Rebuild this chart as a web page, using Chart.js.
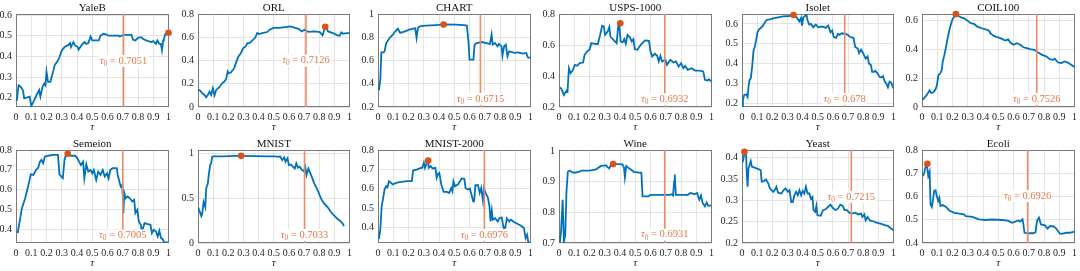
<!DOCTYPE html>
<html>
<head>
<meta charset="utf-8">
<script src="https://cdn.jsdelivr.net/npm/chart.js@4.4.1/dist/chart.umd.min.js"></script>
<style>
  html, body { margin: 0; padding: 0; background: #fff; overflow: hidden; }
  #wrap { position: relative; width: 1080px; height: 271px; }
  #wrap canvas { position: absolute; }
</style>
</head>
<body>
<div id="wrap"></div>
<script>
// ---- data ----
const titles = ["YaleB", "ORL", "CHART", "USPS-1000", "Isolet", "COIL100",
                "Semeion", "MNIST", "MNIST-2000", "Wine", "Yeast", "Ecoli"];
const tau0 = [0.7051, 0.7126, 0.6715, 0.6932, 0.678, 0.7526,
              0.7005, 0.7033, 0.6976, 0.6931, 0.7215, 0.6926];
const peakX = [1.0, 0.84, 0.43, 0.402, 0.34, 0.222, 0.339, 0.285, 0.329, 0.355, 0.016, 0.035];
const peakY = [0.514, 0.69, 0.91, 0.74, 0.645, 0.645, 0.781, 0.972, 0.745, 0.957, 0.414, 0.741];
const yMin = [0.155, 0, 0.2, 0.2, 0.182, 0, 0.33, 0, 0.32, 0.7, 0.2, 0.4];
const yMax = [0.605, 0.8, 1, 0.8, 0.65, 0.646, 0.8, 1.037, 0.8, 1.003, 0.418, 0.8];
const xTicks = [0, 0.1, 0.2, 0.3, 0.4, 0.5, 0.6, 0.7, 0.8, 0.9, 1];
const yTicks = [
  [0.2, 0.3, 0.4, 0.5, 0.6],
  [0, 0.2, 0.4, 0.6, 0.8],
  [0.2, 0.4, 0.6, 0.8, 1],
  [0.2, 0.4, 0.6, 0.8],
  [0.2, 0.3, 0.4, 0.5, 0.6],
  [0, 0.2, 0.4, 0.6],
  [0.4, 0.5, 0.6, 0.7, 0.8],
  [0, 0.5, 1],
  [0.4, 0.5, 0.6, 0.7, 0.8],
  [0.7, 0.8, 0.9, 1],
  [0.2, 0.25, 0.3, 0.35, 0.4],
  [0.4, 0.5, 0.6, 0.7, 0.8]
];
// where the tau0 label sits on each panel (data units)
const labelY = [0.378, 0.4, 0.269, 0.25, 0.222, 0.056, 0.368, 0.09, 0.362, 0.727, 0.308, 0.602];

const yaleb = [[0,0.189],[0.006,0.19],[0.017,0.26],[0.03,0.253],[0.045,0.237],[0.054,0.197],[0.09,0.205],[0.1,0.16],[0.114,0.18],[0.135,0.213],[0.152,0.237],[0.16,0.205],[0.174,0.253],[0.185,0.269],[0.193,0.26],[0.2,0.325],[0.21,0.277],[0.225,0.277],[0.243,0.325],[0.253,0.357],[0.275,0.38],[0.285,0.397],[0.3,0.429],[0.318,0.445],[0.339,0.453],[0.354,0.464],[0.36,0.445],[0.376,0.469],[0.388,0.453],[0.405,0.445],[0.41,0.432],[0.436,0.46],[0.45,0.469],[0.46,0.46],[0.474,0.464],[0.489,0.496],[0.5,0.477],[0.543,0.477],[0.554,0.5],[0.575,0.509],[0.59,0.506],[0.607,0.5],[0.65,0.5],[0.672,0.5],[0.68,0.496],[0.704,0.504],[0.757,0.504],[0.768,0.48],[0.783,0.477],[0.8,0.49],[0.822,0.493],[0.832,0.485],[0.854,0.477],[0.886,0.469],[0.9,0.474],[0.918,0.46],[0.927,0.477],[0.94,0.46],[0.95,0.46],[0.957,0.43],[0.965,0.477],[0.97,0.485],[0.98,0.509],[1,0.513]];
const orl = [[0,0.153],[0.015,0.141],[0.028,0.118],[0.043,0.104],[0.054,0.083],[0.065,0.104],[0.076,0.132],[0.087,0.104],[0.098,0.161],[0.109,0.1],[0.12,0.147],[0.141,0.17],[0.159,0.204],[0.174,0.219],[0.185,0.239],[0.196,0.305],[0.202,0.29],[0.217,0.296],[0.239,0.334],[0.25,0.377],[0.267,0.434],[0.283,0.463],[0.298,0.506],[0.315,0.521],[0.326,0.55],[0.341,0.55],[0.359,0.573],[0.376,0.593],[0.391,0.636],[0.402,0.627],[0.424,0.636],[0.457,0.645],[0.472,0.665],[0.5,0.68],[0.533,0.68],[0.576,0.688],[0.609,0.694],[0.641,0.68],[0.663,0.673],[0.685,0.65],[0.702,0.665],[0.728,0.647],[0.772,0.65],[0.804,0.645],[0.822,0.616],[0.833,0.665],[0.843,0.69],[0.859,0.65],[0.891,0.636],[0.92,0.616],[0.935,0.613],[0.946,0.642],[0.957,0.63],[0.978,0.636],[1,0.636]];
const chartDs = [[0.006,0.343],[0.015,0.435],[0.022,0.67],[0.037,0.67],[0.043,0.68],[0.054,0.75],[0.076,0.794],[0.097,0.822],[0.114,0.851],[0.13,0.874],[0.145,0.837],[0.173,0.848],[0.205,0.865],[0.231,0.874],[0.244,0.877],[0.253,0.794],[0.262,0.882],[0.274,0.894],[0.313,0.9],[0.378,0.905],[0.432,0.91],[0.508,0.908],[0.562,0.905],[0.583,0.9],[0.594,0.75],[0.6,0.607],[0.626,0.607],[0.633,0.736],[0.648,0.75],[0.68,0.759],[0.713,0.75],[0.734,0.742],[0.745,0.822],[0.752,0.736],[0.767,0.75],[0.784,0.722],[0.793,0.742],[0.81,0.722],[0.816,0.642],[0.827,0.722],[0.838,0.736],[0.849,0.636],[0.86,0.679],[0.896,0.665],[0.918,0.67],[0.95,0.659],[0.972,0.665],[0.983,0.627],[1,0.622]];
const usps = [[0.006,0.327],[0.017,0.315],[0.032,0.278],[0.05,0.306],[0.056,0.3],[0.065,0.45],[0.076,0.418],[0.089,0.435],[0.104,0.472],[0.119,0.466],[0.136,0.483],[0.158,0.487],[0.168,0.537],[0.184,0.558],[0.2,0.569],[0.212,0.612],[0.233,0.608],[0.255,0.606],[0.27,0.666],[0.283,0.724],[0.294,0.72],[0.302,0.666],[0.32,0.688],[0.33,0.716],[0.337,0.655],[0.356,0.634],[0.378,0.612],[0.389,0.731],[0.395,0.737],[0.404,0.623],[0.417,0.617],[0.428,0.638],[0.438,0.608],[0.449,0.666],[0.464,0.651],[0.477,0.623],[0.488,0.638],[0.497,0.573],[0.514,0.569],[0.536,0.601],[0.564,0.63],[0.59,0.627],[0.6,0.558],[0.611,0.526],[0.628,0.543],[0.644,0.53],[0.654,0.494],[0.665,0.53],[0.676,0.494],[0.698,0.504],[0.708,0.472],[0.73,0.504],[0.752,0.487],[0.767,0.494],[0.784,0.461],[0.801,0.483],[0.816,0.45],[0.827,0.466],[0.844,0.44],[0.87,0.45],[0.892,0.435],[0.924,0.435],[0.946,0.429],[0.957,0.375],[0.974,0.371],[0.983,0.379],[1,0.364]];
const isolet = [[0,0.185],[0.006,0.218],[0.015,0.243],[0.028,0.246],[0.037,0.232],[0.043,0.285],[0.05,0.318],[0.058,0.326],[0.067,0.384],[0.076,0.467],[0.084,0.484],[0.093,0.517],[0.102,0.558],[0.115,0.575],[0.13,0.583],[0.145,0.6],[0.162,0.62],[0.184,0.623],[0.206,0.628],[0.238,0.633],[0.271,0.638],[0.314,0.64],[0.34,0.645],[0.361,0.633],[0.379,0.613],[0.39,0.63],[0.396,0.592],[0.405,0.633],[0.418,0.641],[0.426,0.646],[0.433,0.617],[0.444,0.597],[0.455,0.6],[0.47,0.583],[0.487,0.597],[0.504,0.583],[0.53,0.587],[0.552,0.58],[0.569,0.592],[0.584,0.558],[0.595,0.567],[0.606,0.534],[0.621,0.53],[0.634,0.55],[0.643,0.545],[0.66,0.553],[0.682,0.55],[0.699,0.545],[0.714,0.534],[0.736,0.53],[0.747,0.484],[0.764,0.476],[0.773,0.454],[0.786,0.471],[0.801,0.451],[0.816,0.426],[0.829,0.437],[0.838,0.401],[0.851,0.393],[0.859,0.359],[0.872,0.359],[0.881,0.364],[0.894,0.351],[0.907,0.334],[0.92,0.331],[0.931,0.338],[0.942,0.31],[0.952,0.301],[0.963,0.281],[0.974,0.31],[0.985,0.305],[1,0.276]];
const coil = [[0.006,0.051],[0.017,0.067],[0.028,0.079],[0.039,0.097],[0.05,0.116],[0.06,0.097],[0.076,0.102],[0.089,0.125],[0.097,0.148],[0.108,0.224],[0.119,0.231],[0.13,0.259],[0.136,0.316],[0.147,0.362],[0.158,0.42],[0.168,0.478],[0.179,0.531],[0.19,0.577],[0.2,0.609],[0.212,0.628],[0.222,0.645],[0.24,0.632],[0.255,0.623],[0.276,0.616],[0.298,0.6],[0.32,0.582],[0.341,0.577],[0.363,0.558],[0.391,0.547],[0.417,0.54],[0.438,0.531],[0.449,0.512],[0.471,0.494],[0.492,0.485],[0.514,0.478],[0.536,0.466],[0.551,0.462],[0.564,0.471],[0.579,0.448],[0.6,0.432],[0.622,0.443],[0.644,0.432],[0.665,0.415],[0.687,0.409],[0.708,0.402],[0.737,0.397],[0.762,0.379],[0.788,0.362],[0.816,0.351],[0.838,0.332],[0.86,0.328],[0.87,0.335],[0.892,0.309],[0.914,0.305],[0.935,0.316],[0.957,0.309],[0.978,0.293],[1,0.277]];
const semeion = [[0.011,0.38],[0.024,0.439],[0.039,0.506],[0.06,0.556],[0.082,0.624],[0.097,0.677],[0.114,0.674],[0.131,0.699],[0.146,0.711],[0.157,0.741],[0.167,0.75],[0.178,0.733],[0.189,0.766],[0.21,0.771],[0.242,0.775],[0.275,0.775],[0.285,0.677],[0.296,0.666],[0.307,0.657],[0.318,0.75],[0.328,0.778],[0.339,0.78],[0.36,0.771],[0.388,0.771],[0.403,0.758],[0.425,0.724],[0.44,0.741],[0.448,0.657],[0.461,0.728],[0.474,0.691],[0.489,0.699],[0.5,0.682],[0.51,0.699],[0.526,0.649],[0.539,0.691],[0.554,0.674],[0.569,0.699],[0.582,0.666],[0.597,0.682],[0.607,0.657],[0.618,0.699],[0.633,0.708],[0.661,0.708],[0.667,0.674],[0.678,0.64],[0.687,0.615],[0.697,0.624],[0.704,0.481],[0.71,0.582],[0.719,0.556],[0.732,0.565],[0.747,0.556],[0.762,0.54],[0.775,0.548],[0.783,0.481],[0.796,0.498],[0.805,0.439],[0.818,0.422],[0.826,0.388],[0.843,0.43],[0.865,0.425],[0.882,0.422],[0.891,0.38],[0.903,0.397],[0.918,0.388],[0.929,0.363],[0.94,0.392],[0.951,0.355],[0.961,0.351],[0.972,0.333],[1,0.333]];
const mnist = [[0,0.401],[0.011,0.352],[0.022,0.3],[0.028,0.326],[0.037,0.457],[0.048,0.401],[0.054,0.607],[0.065,0.663],[0.071,0.757],[0.08,0.869],[0.087,0.888],[0.093,0.96],[0.102,0.965],[0.162,0.967],[0.249,0.971],[0.285,0.972],[0.379,0.969],[0.465,0.966],[0.509,0.966],[0.53,0.96],[0.541,0.966],[0.556,0.925],[0.569,0.955],[0.578,0.906],[0.591,0.944],[0.6,0.869],[0.613,0.876],[0.628,0.85],[0.639,0.831],[0.649,0.888],[0.66,0.839],[0.671,0.85],[0.686,0.813],[0.699,0.801],[0.708,0.85],[0.716,0.757],[0.729,0.831],[0.738,0.794],[0.751,0.738],[0.768,0.663],[0.79,0.588],[0.812,0.494],[0.833,0.438],[0.855,0.401],[0.877,0.345],[0.898,0.307],[0.92,0.27],[0.942,0.24],[0.957,0.213],[0.963,0.187]];
const mnist2000 = [[0.006,0.341],[0.015,0.388],[0.024,0.509],[0.032,0.544],[0.043,0.596],[0.054,0.613],[0.062,0.608],[0.071,0.639],[0.086,0.63],[0.097,0.622],[0.118,0.63],[0.151,0.636],[0.194,0.639],[0.222,0.639],[0.23,0.694],[0.258,0.7],[0.28,0.708],[0.29,0.708],[0.301,0.734],[0.308,0.708],[0.316,0.726],[0.327,0.743],[0.333,0.708],[0.344,0.717],[0.359,0.705],[0.376,0.708],[0.385,0.656],[0.394,0.677],[0.402,0.682],[0.415,0.622],[0.43,0.584],[0.452,0.584],[0.467,0.578],[0.48,0.604],[0.488,0.587],[0.495,0.639],[0.505,0.613],[0.523,0.622],[0.538,0.639],[0.548,0.653],[0.566,0.651],[0.574,0.604],[0.587,0.596],[0.602,0.601],[0.613,0.57],[0.624,0.535],[0.63,0.535],[0.639,0.618],[0.656,0.618],[0.667,0.578],[0.677,0.604],[0.688,0.539],[0.695,0.604],[0.705,0.578],[0.72,0.556],[0.731,0.509],[0.738,0.431],[0.746,0.487],[0.753,0.44],[0.768,0.448],[0.785,0.431],[0.796,0.448],[0.811,0.452],[0.824,0.397],[0.832,0.388],[0.845,0.448],[0.86,0.431],[0.871,0.44],[0.892,0.428],[0.935,0.41],[0.957,0.397],[0.968,0.345],[0.978,0.362],[0.985,0.327],[1,0.319]];
const wine = [[0.006,0.703],[0.013,0.736],[0.024,0.841],[0.032,0.703],[0.041,0.725],[0.049,0.868],[0.058,0.932],[0.071,0.936],[0.084,0.931],[0.103,0.929],[0.131,0.932],[0.146,0.936],[0.2,0.936],[0.243,0.94],[0.275,0.951],[0.308,0.953],[0.318,0.947],[0.329,0.943],[0.34,0.954],[0.355,0.957],[0.394,0.957],[0.415,0.956],[0.426,0.947],[0.432,0.914],[0.441,0.951],[0.454,0.945],[0.469,0.94],[0.49,0.932],[0.523,0.929],[0.54,0.929],[0.548,0.852],[0.587,0.852],[0.598,0.857],[0.695,0.857],[0.727,0.857],[0.738,0.859],[0.748,0.855],[0.755,0.901],[0.759,0.923],[0.766,0.857],[0.845,0.857],[0.862,0.863],[0.888,0.859],[0.905,0.863],[0.92,0.841],[0.931,0.855],[0.942,0.83],[0.957,0.819],[0.968,0.832],[0.978,0.822],[1,0.822]];
const yeast = [[0.004,0.389],[0.011,0.4],[0.017,0.413],[0.026,0.415],[0.032,0.359],[0.037,0.332],[0.043,0.375],[0.05,0.383],[0.058,0.392],[0.065,0.379],[0.087,0.376],[0.108,0.373],[0.123,0.371],[0.13,0.344],[0.145,0.345],[0.158,0.349],[0.173,0.34],[0.184,0.328],[0.206,0.32],[0.216,0.324],[0.227,0.332],[0.238,0.318],[0.26,0.316],[0.275,0.324],[0.288,0.328],[0.303,0.32],[0.314,0.324],[0.325,0.296],[0.335,0.296],[0.346,0.312],[0.357,0.32],[0.368,0.312],[0.379,0.324],[0.39,0.312],[0.4,0.322],[0.411,0.316],[0.422,0.332],[0.433,0.316],[0.444,0.316],[0.455,0.304],[0.465,0.308],[0.472,0.277],[0.483,0.273],[0.491,0.287],[0.498,0.265],[0.519,0.264],[0.535,0.277],[0.552,0.279],[0.569,0.285],[0.584,0.29],[0.6,0.282],[0.617,0.277],[0.634,0.281],[0.649,0.29],[0.665,0.287],[0.677,0.277],[0.693,0.277],[0.708,0.271],[0.725,0.269],[0.747,0.271],[0.768,0.267],[0.786,0.269],[0.794,0.261],[0.807,0.267],[0.816,0.253],[0.829,0.261],[0.844,0.253],[0.866,0.251],[0.887,0.248],[0.92,0.245],[0.942,0.242],[0.963,0.24],[0.98,0.235],[1,0.23]];
const ecoli = [[0.006,0.688],[0.015,0.702],[0.024,0.731],[0.032,0.738],[0.041,0.688],[0.05,0.707],[0.056,0.566],[0.065,0.555],[0.071,0.581],[0.08,0.624],[0.089,0.627],[0.097,0.602],[0.106,0.581],[0.114,0.595],[0.121,0.559],[0.136,0.563],[0.158,0.555],[0.179,0.54],[0.212,0.53],[0.244,0.526],[0.276,0.523],[0.287,0.516],[0.33,0.512],[0.374,0.502],[0.417,0.499],[0.46,0.501],[0.525,0.499],[0.568,0.495],[0.59,0.487],[0.611,0.492],[0.633,0.497],[0.644,0.492],[0.659,0.502],[0.665,0.48],[0.672,0.444],[0.698,0.442],[0.73,0.442],[0.745,0.447],[0.754,0.495],[0.767,0.509],[0.78,0.48],[0.806,0.476],[0.823,0.462],[0.838,0.472],[0.86,0.472],[0.881,0.462],[0.903,0.44],[0.924,0.44],[0.946,0.444],[0.968,0.444],[1,0.449]];

const series = [yaleb, orl, chartDs, usps, isolet, coil, semeion, mnist, mnist2000, wine, yeast, ecoli];

// ---- layout ----
const serif = '"Liberation Serif", "Times New Roman", serif';
const plotLeft = [16, 198, 378, 559, 742, 922];
const plotWidth = [155, 154, 155, 155, 154, 155];
const rowTop = [0, 135];
const rowHeight = [135, 136];
const plotTop = [14, 15];
const xAxisH = 28;
const yAxisW = 30;
const padRight = 4;

const blue = "#0072BD";
const tauColor = "#EC8B64";
const labelColor = "#E4774B";
const dotColor = "#D95319";

// box, tau0 label, title, axis name
const panelPlugin = {
  id: "panel",
  beforeDatasetsDraw(chart) {
    const { ctx, chartArea: a } = chart;
    ctx.save();
    ctx.strokeStyle = "#7a7a7a";
    ctx.lineWidth = 1;
    ctx.strokeRect(Math.round(a.left) + 0.5, Math.round(a.top) + 0.5,
                   Math.round(a.right - a.left) - 1, Math.round(a.bottom - a.top) - 1);
    ctx.restore();
  },
  afterDatasetsDraw(chart) {
    const { ctx, scales } = chart;
    const i = chart.options.plugins.panel.index;
    const fs = 10.5;
    const px = scales.x.getPixelForValue(tau0[i]);
    const py = scales.y.getPixelForValue(labelY[i]);
    const rest = " = " + String(tau0[i]);
    ctx.save();
    ctx.font = `italic ${fs}px ${serif}`;
    const w1 = ctx.measureText("\u03c4").width;
    ctx.font = `${fs * 0.7}px ${serif}`;
    const w2 = ctx.measureText("0").width;
    ctx.font = `${fs}px ${serif}`;
    const w3 = ctx.measureText(rest).width;
    const w = w1 + w2 + w3;
    let sx = px - w / 2;
    ctx.fillStyle = "#fff";
    ctx.fillRect(sx - 1, py - 6, w + 2, 12);
    ctx.fillStyle = labelColor;
    ctx.textBaseline = "middle";
    ctx.textAlign = "left";
    ctx.font = `italic ${fs}px ${serif}`;
    ctx.fillText("\u03c4", sx, py);
    ctx.font = `${fs * 0.7}px ${serif}`;
    ctx.fillText("0", sx + w1, py + 3);
    ctx.font = `${fs}px ${serif}`;
    ctx.fillText(rest, sx + w1 + w2, py);
    ctx.restore();
  },
  afterDraw(chart) {
    const { ctx, chartArea: a } = chart;
    const i = chart.options.plugins.panel.index;
    const cx = (a.left + a.right) / 2;
    ctx.save();
    ctx.fillStyle = "#111";
    ctx.textAlign = "center";
    ctx.textBaseline = "bottom";
    ctx.font = `11px ${serif}`;
    ctx.fillText(titles[i], cx, a.top - 0.5);
    ctx.textBaseline = "middle";
    ctx.fillStyle = "#262626";
    ctx.font = `italic 11px ${serif}`;
    ctx.fillText("\u03c4", cx, a.bottom + 20);
    ctx.restore();
  }
};

const wrap = document.getElementById("wrap");

titles.forEach((name, i) => {
  const col = i % 6;
  const row = Math.floor(i / 6);
  const canvas = document.createElement("canvas");
  const w = yAxisW + plotWidth[col] + padRight;
  const h = rowHeight[row];
  canvas.width = w;
  canvas.height = h;
  canvas.style.width = w + "px";
  canvas.style.height = h + "px";
  canvas.style.left = (plotLeft[col] - yAxisW) + "px";
  canvas.style.top = rowTop[row] + "px";
  wrap.appendChild(canvas);

  const tickFont = { family: serif, size: 10 };

  new Chart(canvas.getContext("2d"), {
    type: "line",
    data: {
      datasets: [
        {
          data: [{ x: peakX[i], y: peakY[i] }],
          showLine: false,
          pointRadius: 3.3,
          pointBackgroundColor: dotColor,
          pointBorderColor: dotColor,
          pointBorderWidth: 0,
          clip: false,
          order: 1
        },
        {
          data: [{ x: tau0[i], y: yMin[i] }, { x: tau0[i], y: yMax[i] }],
          borderColor: tauColor,
          borderWidth: 1.6,
          pointRadius: 0,
          order: 2
        },
        {
          data: series[i].map(([x, y]) => ({ x, y })),
          borderColor: blue,
          borderWidth: 1.8,
          pointRadius: 0,
          tension: 0,
          order: 3
        }
      ]
    },
    options: {
      responsive: false,
      animation: false,
      events: [],
      layout: { padding: { top: plotTop[row], right: padRight, left: 0, bottom: 0 } },
      plugins: {
        legend: { display: false },
        tooltip: { enabled: false },
        panel: { index: i }
      },
      scales: {
        x: {
          type: "linear",
          min: 0,
          max: 1,
          afterBuildTicks: (s) => { s.ticks = xTicks.map((v) => ({ value: v })); },
          afterFit: (s) => { s.height = xAxisH; },
          ticks: {
            autoSkip: false,
            maxRotation: 0,
            minRotation: 0,
            padding: 4,
            color: "#262626",
            font: tickFont,
            callback: (v) => String(v)
          },
          grid: { color: "#e4e4e4", drawTicks: false, lineWidth: 1 },
          border: { display: false }
        },
        y: {
          type: "linear",
          min: yMin[i],
          max: yMax[i],
          afterBuildTicks: (s) => { s.ticks = yTicks[i].map((v) => ({ value: v })); },
          afterFit: (s) => { s.width = yAxisW; },
          ticks: {
            padding: 4,
            color: "#262626",
            font: tickFont,
            callback: (v) => String(v)
          },
          grid: { color: "#e4e4e4", drawTicks: false, lineWidth: 1 },
          border: { display: false }
        }
      }
    },
    plugins: [panelPlugin]
  });
});
</script>
</body>
</html>
